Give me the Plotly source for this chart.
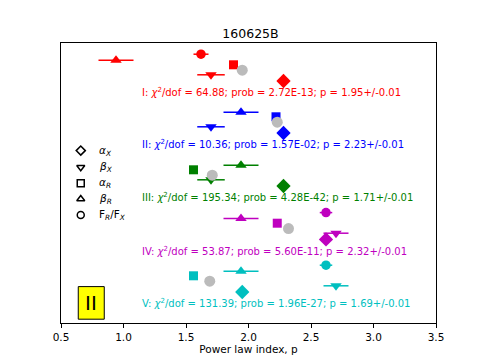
import plotly.graph_objects as go

# fit results per group
groups = ["I", "II", "III", "IV", "V"]
colors = ["#ff0000", "#0000ff", "#008000", "#bf00bf", "#00bfbf"]
chi2_dof = [64.88, 10.36, 195.34, 53.87, 131.39]
prob = ["2.72E-13", "1.57E-02", "4.28E-42", "5.60E-11", "1.96E-27"]
p_fit = [1.95, 2.23, 1.71, 2.32, 1.69]
p_err = [0.01, 0.01, 0.01, 0.01, 0.01]

alpha_x = [2.28, 2.28, 2.28, 2.62, 1.95]
beta_x = [1.70, 1.70, 1.70, 2.70, 2.70]
beta_x_err = [0.11, 0.11, 0.11, 0.10, 0.10]
alpha_r = [1.88, 2.22, 1.56, 2.23, 1.56]
beta_r = [0.94, 1.94, 1.94, 1.94, 1.94]
beta_r_err = [0.14, 0.14, 0.14, 0.14, 0.14]
ratio = [1.62, None, None, 2.62, 2.62]
ratio_err = [0.06, None, None, 0.05, 0.05]

# vertical stacking (arbitrary units)
group_y = [11.54, 8.94, 6.29, 3.62, 0.99]
offs = {"ratio": 1.9, "beta_r": 1.6, "alpha_r": 1.37, "p": 1.1, "beta_x": 0.87, "alpha_x": 0.56}

legend_labels = ["<i>α<sub>X</sub></i>", "<i>β<sub>X</sub></i>", "<i>α<sub>R</sub></i>",
                 "<i>β<sub>R</sub></i>", "F<sub><i>R</i></sub>/F<sub><i>X</i></sub>"]
legend_symbols = ["diamond-open", "triangle-down-open", "square-open", "triangle-up-open", "circle-open"]

fig = go.Figure()

def pt(x, y, sym, col, size, err=None):
    fig.add_trace(go.Scatter(
        x=[x], y=[y], mode="markers",
        marker=dict(symbol=sym, color=col, size=size, line=dict(width=0)),
        error_x=dict(type="data", array=[err], color=col, thickness=1.5, width=0, visible=err is not None),
        showlegend=False, hoverinfo="skip"))

for i, g in enumerate(groups):
    c = colors[i]
    y0 = group_y[i]
    pt(alpha_x[i], y0 + offs["alpha_x"], "diamond", c, 11)
    pt(beta_x[i], y0 + offs["beta_x"], "triangle-down", c, 10, beta_x_err[i])
    pt(alpha_r[i], y0 + offs["alpha_r"], "square", c, 9)
    pt(beta_r[i], y0 + offs["beta_r"], "triangle-up", c, 10, beta_r_err[i])
    if ratio[i] is not None:
        pt(ratio[i], y0 + offs["ratio"], "circle", c, 9.5, ratio_err[i])
    pt(p_fit[i], y0 + offs["p"], "circle", "#bbbbbb", 11, p_err[i])
    fig.add_annotation(
        x=1.14, y=y0, xanchor="left", yanchor="middle", showarrow=False, borderpad=0,
        text=f"{g}: <i>χ</i><sup>2</sup>/dof = {chi2_dof[i]:.2f}; prob = {prob[i]}; p = {p_fit[i]:.2f}+/-{p_err[i]:.2f}",
        font=dict(color=c, size=10))

# hand-made legend
leg_y = [8.62, 7.79, 6.99, 6.2, 5.4]
fig.add_trace(go.Scatter(
    x=[0.658] * len(leg_y), y=leg_y, mode="markers",
    marker=dict(symbol=legend_symbols, color="black", size=7, line=dict(width=1.5, color="black")),
    showlegend=False, hoverinfo="skip"))
for lab, yy in zip(legend_labels, leg_y):
    fig.add_annotation(x=0.79, y=yy, xanchor="left", yanchor="middle", showarrow=False,
                       text=lab, font=dict(size=10.5, color="black"))

# yellow label box
fig.add_shape(type="rect", x0=0.638, x1=0.846, y0=0.19, y1=1.82,
              fillcolor="yellow", line=dict(color="black", width=1))
fig.add_annotation(x=0.742, y=1.0, text="II", showarrow=False,
                   font=dict(size=20, color="black"))

fig.update_layout(
    width=485, height=364,
    margin=dict(l=53, r=57, t=35, b=49),
    paper_bgcolor="white", plot_bgcolor="white",
    font=dict(family="DejaVu Sans", color="black"),
    title=dict(text="160625B", x=0.5, xanchor="center", y=0.93, yanchor="middle",
               font=dict(size=12.5)),
    xaxis=dict(range=[0.5, 3.5], dtick=0.5, tick0=0.5, tickformat=".1f",
               ticks="outside", ticklen=4, tickcolor="black", tickfont=dict(size=10.5),
               showgrid=False, zeroline=False, showline=True, linecolor="black", mirror=True,
               title=dict(text="Power law index, p", font=dict(size=10.5), standoff=4)),
    yaxis=dict(range=[0, 14], showticklabels=False, ticks="", showgrid=False, zeroline=False,
               showline=True, linecolor="black", mirror=True),
)

fig.write_html("out.html")
